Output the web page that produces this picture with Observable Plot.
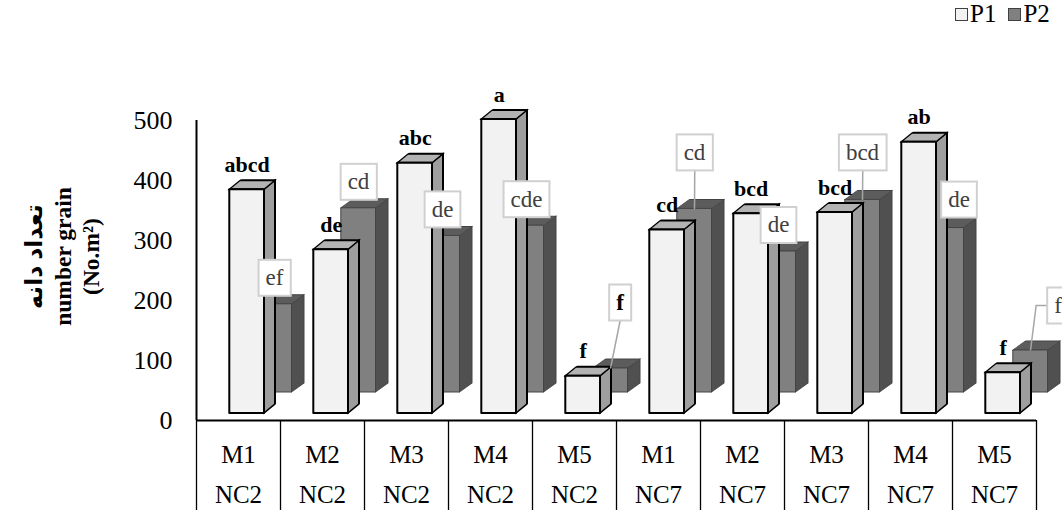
<!DOCTYPE html>
<html><head><meta charset="utf-8">
<script src="https://cdn.jsdelivr.net/npm/d3@7"></script>
<script src="https://cdn.jsdelivr.net/npm/@observablehq/plot@0.6"></script>
<style>
html,body{margin:0;padding:0;background:#fff;}
#wrap{position:relative;width:1062px;height:510px;overflow:hidden;font-family:"Liberation Serif",serif;}
#legend{position:absolute;top:0px;left:955px;font-size:25px;line-height:28px;display:flex;align-items:center;white-space:nowrap;color:#000;}
#legend .sw{display:inline-block;width:11px;height:11px;border:1px solid #404040;margin-right:2px;}
#legend .gap{display:inline-block;width:12px;}
</style></head><body>
<div id="wrap"><div id="legend"></div></div>
<script>
// ---- data ----
const treatments = ["M1","M2","M3","M4","M5","M1","M2","M3","M4","M5"];
const groups = ["NC2","NC2","NC2","NC2","NC2","NC7","NC7","NC7","NC7","NC7"];
const p1 = [373, 273, 417, 490, 62, 306, 333, 335, 452, 68];
const p2 = [147, 307, 261, 278, 40, 306, 235, 321, 274, 70];
const p1Letters = ["abcd","de","abc","a","f","cd","bcd","bcd","ab","f"];
const p2Letters = ["ef","cd","de","cde","f","cd","de","bcd","de","f"];
const yTicks = [0, 100, 200, 300, 400, 500];
const seriesNames = ["P1", "P2"];
const yTitle = "تعداد دانه\nnumber grain\n(No.m²)";

// ---- layout / style (pixels) ----
const FONT = "'Liberation Serif', 'DejaVu Sans', serif";
const IN_L = 33.3, IN_R = 16;          // front face insets inside a category band
const P1 = {dy: -7, dx: 0, depthX: 11, depthY: 9, front: "#f2f2f2", side: "#9e9e9e", top: "#b3b3b3", stroke: "#000", sw: 2};
const P2 = {dy: -28, dx: 27.5, depthX: 12.5, depthY: 9, front: "#808080", side: "#505050", top: "#5c5c5c", stroke: "#444", sw: 1};
const p2Shift = [[0,0],[0,0],[0,0],[0,0],[9.5,-39.5],[0,-30],[0,0],[0,-21],[12.5,-2],[27.5,-18.5]];
const p2Leader = [null,null,null,null,"line","line",null,"line",null,"elbow"];
const p2Bold = [false,false,false,false,true,false,false,false,false,false];

const data = treatments.map((m, i) => ({i, m, g: groups[i], p1: p1[i], p2: p2[i], l1: p1Letters[i], l2: p2Letters[i]}));
const X1 = d => d.i, X2 = d => d.i + 1, XC = d => d.i + 0.5;

function box(S, key, name) {
  return [
    Plot.rect(data, {x1: X1, x2: X2, y1: 0, y2: key, insetLeft: 84 - IN_R, insetRight: IN_R - S.depthX,
      dx: S.dx, dy: S.dy, fill: S.side, stroke: S.stroke, strokeWidth: S.sw, strokeLinejoin: "round", ariaDescription: name + "-side"}),
    Plot.rect(data, {x1: X1, x2: X2, y1: key, y2: key, insetLeft: IN_L, insetRight: IN_R, insetTop: -S.depthY,
      dx: S.dx, dy: S.dy, fill: S.top, stroke: S.stroke, strokeWidth: S.sw, strokeLinejoin: "round", ariaDescription: name + "-top"}),
    Plot.rect(data, {x1: X1, x2: X2, y1: 0, y2: key, insetLeft: IN_L, insetRight: IN_R,
      dx: S.dx, dy: S.dy, fill: S.front, stroke: S.stroke, strokeWidth: S.sw, strokeLinejoin: "round", ariaDescription: name + "-front"})
  ];
}

const plot = Plot.plot({
  width: 1062, height: 510,
  marginLeft: 196, marginRight: 26, marginTop: 120, marginBottom: 90,
  x: {domain: [0, 10], axis: null},
  y: {domain: [0, 500], label: null},
  style: {fontFamily: FONT, background: "white", color: "black", overflow: "visible"},
  marks: [
    Plot.axisY({ticks: yTicks, tickSize: 0, tickPadding: 24, fontSize: 26, label: null}),
    Plot.ruleX(d3.range(11), {y1: 0, y2: 0, insetBottom: -90, stroke: "black", strokeWidth: 1.3}),
    Plot.ruleX([0], {stroke: "black", strokeWidth: 2}),
    Plot.ruleY([0], {stroke: "black", strokeWidth: 2}),
    ...box(P2, "p2", "p2"),
    ...box(P1, "p1", "p1"),
    Plot.text(data, {x: XC, y: "p1", text: "l1", dx: 8.7, dy: P1.dy - 18, lineAnchor: "bottom",
      fontWeight: "bold", fontSize: 22, fill: "black"}),
    Plot.text(data, {x: XC, y: 0, text: "m", dy: 34, fontSize: 25, fill: "black"}),
    Plot.text(data, {x: XC, y: 0, text: "g", dy: 74, fontSize: 25, fill: "black"}),
    Plot.text([yTitle], {text: d => d, frameAnchor: "left", textAnchor: "middle", dx: -135, dy: -14, rotate: -90,
      fontWeight: "bold", fontSize: 23.5, lineHeight: 1.22, fill: "black"}),
    ...data.map((d, k) => Plot.text([d], {x: XC, y: "p2", text: "l2",
      dx: 36 + p2Shift[k][0], dy: P2.dy - 26.5 + p2Shift[k][1],
      fontSize: 23, fill: p2Bold[k] ? "#000" : "#404040", fontWeight: p2Bold[k] ? "bold" : "normal",
      ariaDescription: "p2-label"}))
  ]
});
document.getElementById("wrap").appendChild(plot);

// ---- 3D faces: skew side and top faces ----
const deg = r => r * 180 / Math.PI;
const root = d3.select(plot);
for (const [S, name] of [[P1, "p1"], [P2, "p2"]]) {
  const aSide = deg(Math.atan2(S.depthY, S.depthX));
  root.selectAll(`g[aria-description="${name}-side"] rect`).attr("transform", function () {
    const x = +this.getAttribute("x");
    return `translate(${x},0) skewY(${-aSide}) translate(${-x},0)`;
  });
  const aTop = deg(Math.atan2(S.depthX, S.depthY));
  root.selectAll(`g[aria-description="${name}-top"] rect`).attr("transform", function () {
    const y = +this.getAttribute("y") + +this.getAttribute("height");
    return `translate(0,${y}) skewX(${-aTop}) translate(0,${-y})`;
  });
}

// ---- boxed P2 labels with leader lines ----
root.selectAll('g[aria-description="p2-label"]').each(function (_, k) {
  const t = this.querySelector("text");
  if (!t) return;
  const bb = t.getBBox();
  const w = bb.width + 14, h = 36;
  const cx = bb.x + bb.width / 2;
  const g = d3.select(this).insert("g", () => t).attr("transform", t.getAttribute("transform"));
  const [sx, sy] = p2Shift[k];
  const tx = -sx, ty = 26.5 - sy;
  if (p2Leader[k] === "line") {
    g.append("path").attr("d", `M${cx},${h / 2}L${tx},${ty}`).attr("stroke", "#a6a6a6").attr("stroke-width", 1.5).attr("fill", "none");
  } else if (p2Leader[k] === "elbow") {
    g.append("path").attr("d", `M${cx - w / 2},0H${cx - w / 2 - 11}L${tx},${ty}`).attr("stroke", "#a6a6a6").attr("stroke-width", 1.5).attr("fill", "none");
  }
  g.append("rect").attr("x", cx - w / 2).attr("y", -h / 2).attr("width", w).attr("height", h)
    .attr("fill", "white").attr("stroke", "#d0d0d0").attr("stroke-width", 2);
});

// ---- legend ----
const legend = document.getElementById("legend");
[[seriesNames[0], P1.front], [seriesNames[1], P2.front]].forEach(([name, color], k) => {
  if (k) { const gp = document.createElement("span"); gp.className = "gap"; legend.appendChild(gp); }
  const sw = document.createElement("span"); sw.className = "sw"; sw.style.background = color; legend.appendChild(sw);
  const tx = document.createElement("span"); tx.textContent = name; legend.appendChild(tx);
});
</script>
</body></html>
